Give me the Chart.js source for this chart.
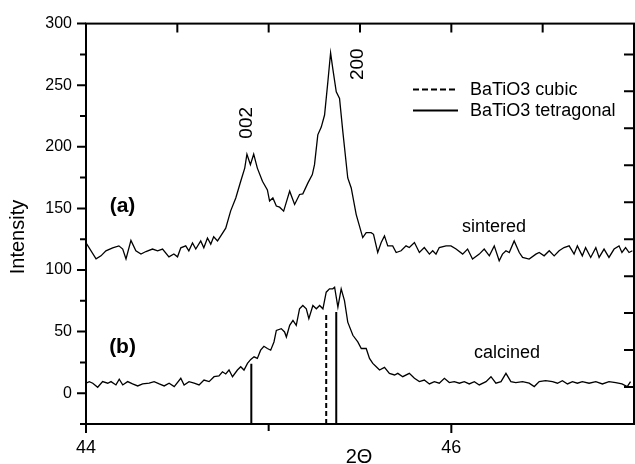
<!DOCTYPE html>
<html>
<head>
<meta charset="utf-8">
<script src="https://cdn.jsdelivr.net/npm/chart.js@4.4.1/dist/chart.umd.min.js"></script>
<style>
  html, body { margin: 0; padding: 0; background: #fff; }
  #wrap { width: 635px; height: 464px; }
</style>
</head>
<body>
<div id="wrap"><canvas id="xrd"></canvas></div>
<script>
// 2-theta / intensity
var sinteredTheta = [44.000,44.055,44.082,44.109,44.146,44.180,44.201,44.219,44.246,44.273,
  44.301,44.328,44.364,44.392,44.419,44.454,44.481,44.501,44.519,44.546,
  44.563,44.583,44.601,44.628,44.645,44.665,44.683,44.699,44.720,44.738,
  44.765,44.792,44.820,44.847,44.869,44.881,44.900,44.918,44.938,44.966,
  44.993,45.005,45.023,45.042,45.060,45.082,45.115,45.142,45.169,45.187,
  45.215,45.239,45.251,45.269,45.288,45.306,45.324,45.339,45.351,45.370,
  45.388,45.406,45.433,45.452,45.479,45.515,45.534,45.561,45.574,45.597,
  45.616,45.634,45.652,45.679,45.698,45.725,45.752,45.770,45.798,45.825,
  45.852,45.880,45.898,45.916,45.934,45.971,45.998,46.026,46.062,46.089,
  46.116,46.153,46.180,46.208,46.235,46.262,46.280,46.299,46.317,46.344,
  46.372,46.390,46.426,46.463,46.481,46.508,46.536,46.563,46.590,46.617,
  46.645,46.672,46.690,46.717,46.735,46.763,46.791,46.809,46.836,46.863,
  46.891,46.918,46.934,46.954,46.973,46.991];
var sinteredIntensity = [122,109,111.5,115.6,118,119.6,117,109,124,115.6,
  113,115,117,115.6,117,110.7,113,110.7,118,119.6,
  115.6,122,117,123.6,118,126,121,127,123.6,127.7,
  134,148,158.5,172,182.7,194,185.5,194,182.7,172,
  165,156,158.5,151.9,151,147.8,164,153.2,161.3,161.8,
  170.7,177.4,185.5,209.7,216,225.8,252.7,276.3,263.4,244.6,
  239.2,212.3,174.7,166.6,145.2,126.3,130.3,130.3,129,114.2,
  122.3,127.7,119.6,119.6,114.2,115.6,119.6,118.2,122.3,114.2,
  118.2,112.9,115.6,112.9,118.2,119.6,119.6,117,112.9,117,
  108.9,112.9,117,111.5,119.6,107.5,112.9,115.6,114.2,123.6,
  114.2,110.2,108.9,112.9,114.2,111.5,115.6,111.5,115.6,118.2,
  119.6,112.9,119.6,111.5,118.2,110.2,118.2,110.2,117,110.2,
  117,119.6,114.2,118.2,114.2,115.6];

var calcinedTheta = [44.000,44.018,44.037,44.064,44.091,44.119,44.137,44.164,44.182,44.201,
  44.228,44.255,44.283,44.310,44.346,44.373,44.401,44.428,44.455,44.483,
  44.519,44.537,44.564,44.592,44.619,44.646,44.674,44.701,44.728,44.747,
  44.765,44.783,44.802,44.829,44.847,44.865,44.884,44.902,44.920,44.938,
  44.956,44.974,44.993,45.011,45.029,45.042,45.069,45.087,45.097,45.115,
  45.133,45.151,45.169,45.187,45.206,45.220,45.242,45.261,45.279,45.297,
  45.315,45.333,45.351,45.361,45.379,45.397,45.415,45.433,45.461,45.488,
  45.507,45.534,45.552,45.570,45.589,45.607,45.634,45.661,45.689,45.707,
  45.734,45.770,45.798,45.825,45.852,45.880,45.907,45.934,45.962,45.989,
  46.016,46.044,46.071,46.098,46.126,46.153,46.190,46.217,46.244,46.272,
  46.299,46.326,46.353,46.390,46.426,46.454,46.481,46.516,46.554,46.581,
  46.608,46.636,46.663,46.690,46.717,46.754,46.791,46.827,46.863,46.900,
  46.934,46.963,46.981];
var calcinedIntensity = [8.1,9.4,8.1,4.8,9.4,8.1,9.4,6.7,11.3,6.7,
  9.4,7.5,5.9,7.5,8.1,9.4,7.5,5.9,8.1,5.4,
  12.1,6.7,9.4,8.1,6.7,10.7,9.4,13.4,14,17.4,
  15.6,18.8,13.4,18.8,21.5,18.8,24.2,27.4,29.5,28.2,
  34.9,38.1,36.3,34.9,41.6,51,52.4,49.7,45.6,55.1,
  59.1,55.1,68.5,71.2,68.5,60.5,71.2,68.5,71.2,68.5,
  82,84.7,84.7,86,69.8,84.7,75.2,57.7,47,41.6,
  36.3,36.3,28.2,24.2,21.5,18.8,21,16.1,14.8,16.1,
  13.4,16.1,12.1,9.4,10.7,7.5,9.4,8.1,12.1,8.6,
  9.4,8.1,9.4,7.5,9.4,6.7,9.4,13.4,8.1,9.4,
  16.1,9.4,8.6,9.4,8.1,5.4,9.4,10.2,9.4,8.1,
  10.2,7.5,9.4,8.1,9.4,8.1,9.4,7.5,9.4,8.6,
  7.5,5.4,9.4];

// reference stick positions (JCPDS-like)
var stickTheta = [44.905, 45.315, 45.37];
var stickHeight = [24, 64.5, 66];
var stickPhase = ["tetragonal", "cubic", "tetragonal"];

// axes
var xMin = 44, xMax = 47, yMin = -25, yMax = 300;
var xTickLabels = [44, 46];
var yTickLabels = [0, 50, 100, 150, 200, 250, 300];
var bottomTicks = [44, 45, 46];
var topTicks = [44.5, 45, 45.5, 46, 46.5];
var leftTicks = [-25, 0, 25, 50, 75, 100, 125, 150, 175, 200, 225, 250, 275, 300];
var rightTicks = [5, 35, 65, 95, 125, 155, 185, 215, 245, 275];

var fontFamily = '"Liberation Sans", Arial, sans-serif';

function toPoints(xs, ys) {
  return xs.map(function (v, i) { return { x: v, y: ys[i] }; });
}

var datasets = [
  {
    label: "sintered",
    data: toPoints(sinteredTheta, sinteredIntensity),
    borderColor: "#000",
    borderWidth: 1.3,
    pointRadius: 0,
    fill: false
  },
  {
    label: "calcined",
    data: toPoints(calcinedTheta, calcinedIntensity),
    borderColor: "#000",
    borderWidth: 1.3,
    pointRadius: 0,
    fill: false
  }
];
stickTheta.forEach(function (t, i) {
  datasets.push({
    label: "BaTiO3 " + stickPhase[i],
    data: [{ x: t, y: yMin }, { x: t, y: stickHeight[i] }],
    borderColor: "#000",
    borderWidth: 2,
    borderDash: stickPhase[i] === "cubic" ? [5, 3] : [],
    pointRadius: 0,
    fill: false
  });
});

function drawText(ctx, text, px, py, font, rot, align, base) {
  ctx.save();
  ctx.translate(px, py);
  if (rot) ctx.rotate(rot);
  ctx.font = font;
  ctx.fillStyle = "#000";
  ctx.textAlign = align || "center";
  ctx.textBaseline = base || "middle";
  ctx.fillText(text, 0, 0);
  ctx.restore();
}

var decor = {
  id: "decor",
  afterDatasetsDraw: function (chart) {
    var ctx = chart.ctx, a = chart.chartArea;
    var x = chart.scales.x, y = chart.scales.y;
    ctx.save();
    ctx.strokeStyle = "#000";
    ctx.lineWidth = 2;
    ctx.strokeRect(a.left, a.top, a.right - a.left, a.bottom - a.top);

    ctx.beginPath();
    leftTicks.forEach(function (v) {
      var py = y.getPixelForValue(v);
      ctx.moveTo(a.left, py);
      ctx.lineTo(a.left - (v % 50 === 0 ? 9 : 6), py);
    });
    rightTicks.forEach(function (v) {
      var py = y.getPixelForValue(v);
      ctx.moveTo(a.right, py);
      ctx.lineTo(a.right - 10, py);
    });
    bottomTicks.forEach(function (v) {
      var px = x.getPixelForValue(v);
      ctx.moveTo(px, a.bottom);
      ctx.lineTo(px, a.bottom + (v % 2 === 0 ? 9 : 7));
    });
    topTicks.forEach(function (v) {
      var px = x.getPixelForValue(v);
      ctx.moveTo(px, a.top);
      ctx.lineTo(px, a.top + 9);
    });
    ctx.stroke();

    // legend
    var lx = a.left + 327, ly1 = a.top + 66, ly2 = a.top + 87;
    ctx.lineWidth = 2;
    ctx.setLineDash([6, 3]);
    ctx.beginPath();
    ctx.moveTo(lx, ly1); ctx.lineTo(lx + 45, ly1);
    ctx.stroke();
    ctx.setLineDash([]);
    ctx.beginPath();
    ctx.moveTo(lx, ly2); ctx.lineTo(lx + 45, ly2);
    ctx.stroke();
    var f18 = "18px " + fontFamily;
    drawText(ctx, "BaTiO3 cubic", lx + 57, ly1, f18, 0, "left");
    drawText(ctx, "BaTiO3 tetragonal", lx + 57, ly2, f18, 0, "left");

    // annotations
    var f19 = "19px " + fontFamily;
    drawText(ctx, "002", x.getPixelForValue(44.88), y.getPixelForValue(219.5), f19, -Math.PI / 2);
    drawText(ctx, "200", x.getPixelForValue(45.49), y.getPixelForValue(267), f19, -Math.PI / 2);
    var fb = "bold 21px " + fontFamily;
    drawText(ctx, "(a)", x.getPixelForValue(44.2), y.getPixelForValue(151.5), fb);
    drawText(ctx, "(b)", x.getPixelForValue(44.2), y.getPixelForValue(37.5), fb);
    drawText(ctx, "sintered", x.getPixelForValue(46.233), y.getPixelForValue(135), f18);
    drawText(ctx, "calcined", x.getPixelForValue(46.305), y.getPixelForValue(33), f18);

    // axis titles
    var f20 = "20px " + fontFamily;
    drawText(ctx, "Intensity", 18, 237, f20, -Math.PI / 2);
    drawText(ctx, "2\u0398", x.getPixelForValue(45.5) - 1, 463, f20, 0, "center", "alphabetic");
    ctx.restore();
  }
};

var ctx = document.getElementById("xrd");
var myChart = new Chart(ctx, {
  type: "line",
  data: { datasets: datasets },
  options: {
    responsive: true,
    maintainAspectRatio: false,
    animation: false,
    layout: { padding: { top: 22.5, right: 1, left: 0, bottom: 0 } },
    plugins: {
      legend: { display: false },
      tooltip: { enabled: false }
    },
    scales: {
      x: {
        type: "linear",
        min: xMin,
        max: xMax,
        grid: { display: false, drawTicks: false },
        border: { display: false },
        afterBuildTicks: function (scale) {
          scale.ticks = xTickLabels.map(function (v) { return { value: v }; });
        },
        afterFit: function (scale) { scale.height = 40; },
        ticks: {
          color: "#000",
          padding: 13,
          maxRotation: 0,
          font: { family: fontFamily, size: 18 },
          callback: function (v) { return String(v); }
        }
      },
      y: {
        min: yMin,
        max: yMax,
        grid: { display: false, drawTicks: false },
        border: { display: false },
        afterBuildTicks: function (scale) {
          scale.ticks = yTickLabels.map(function (v) { return { value: v }; });
        },
        afterFit: function (scale) { scale.width = 86; },
        ticks: {
          color: "#000",
          padding: 14,
          font: { family: fontFamily, size: 16 },
          callback: function (v) { return String(v); }
        }
      }
    }
  },
  plugins: [decor]
});
</script>
</body>
</html>
